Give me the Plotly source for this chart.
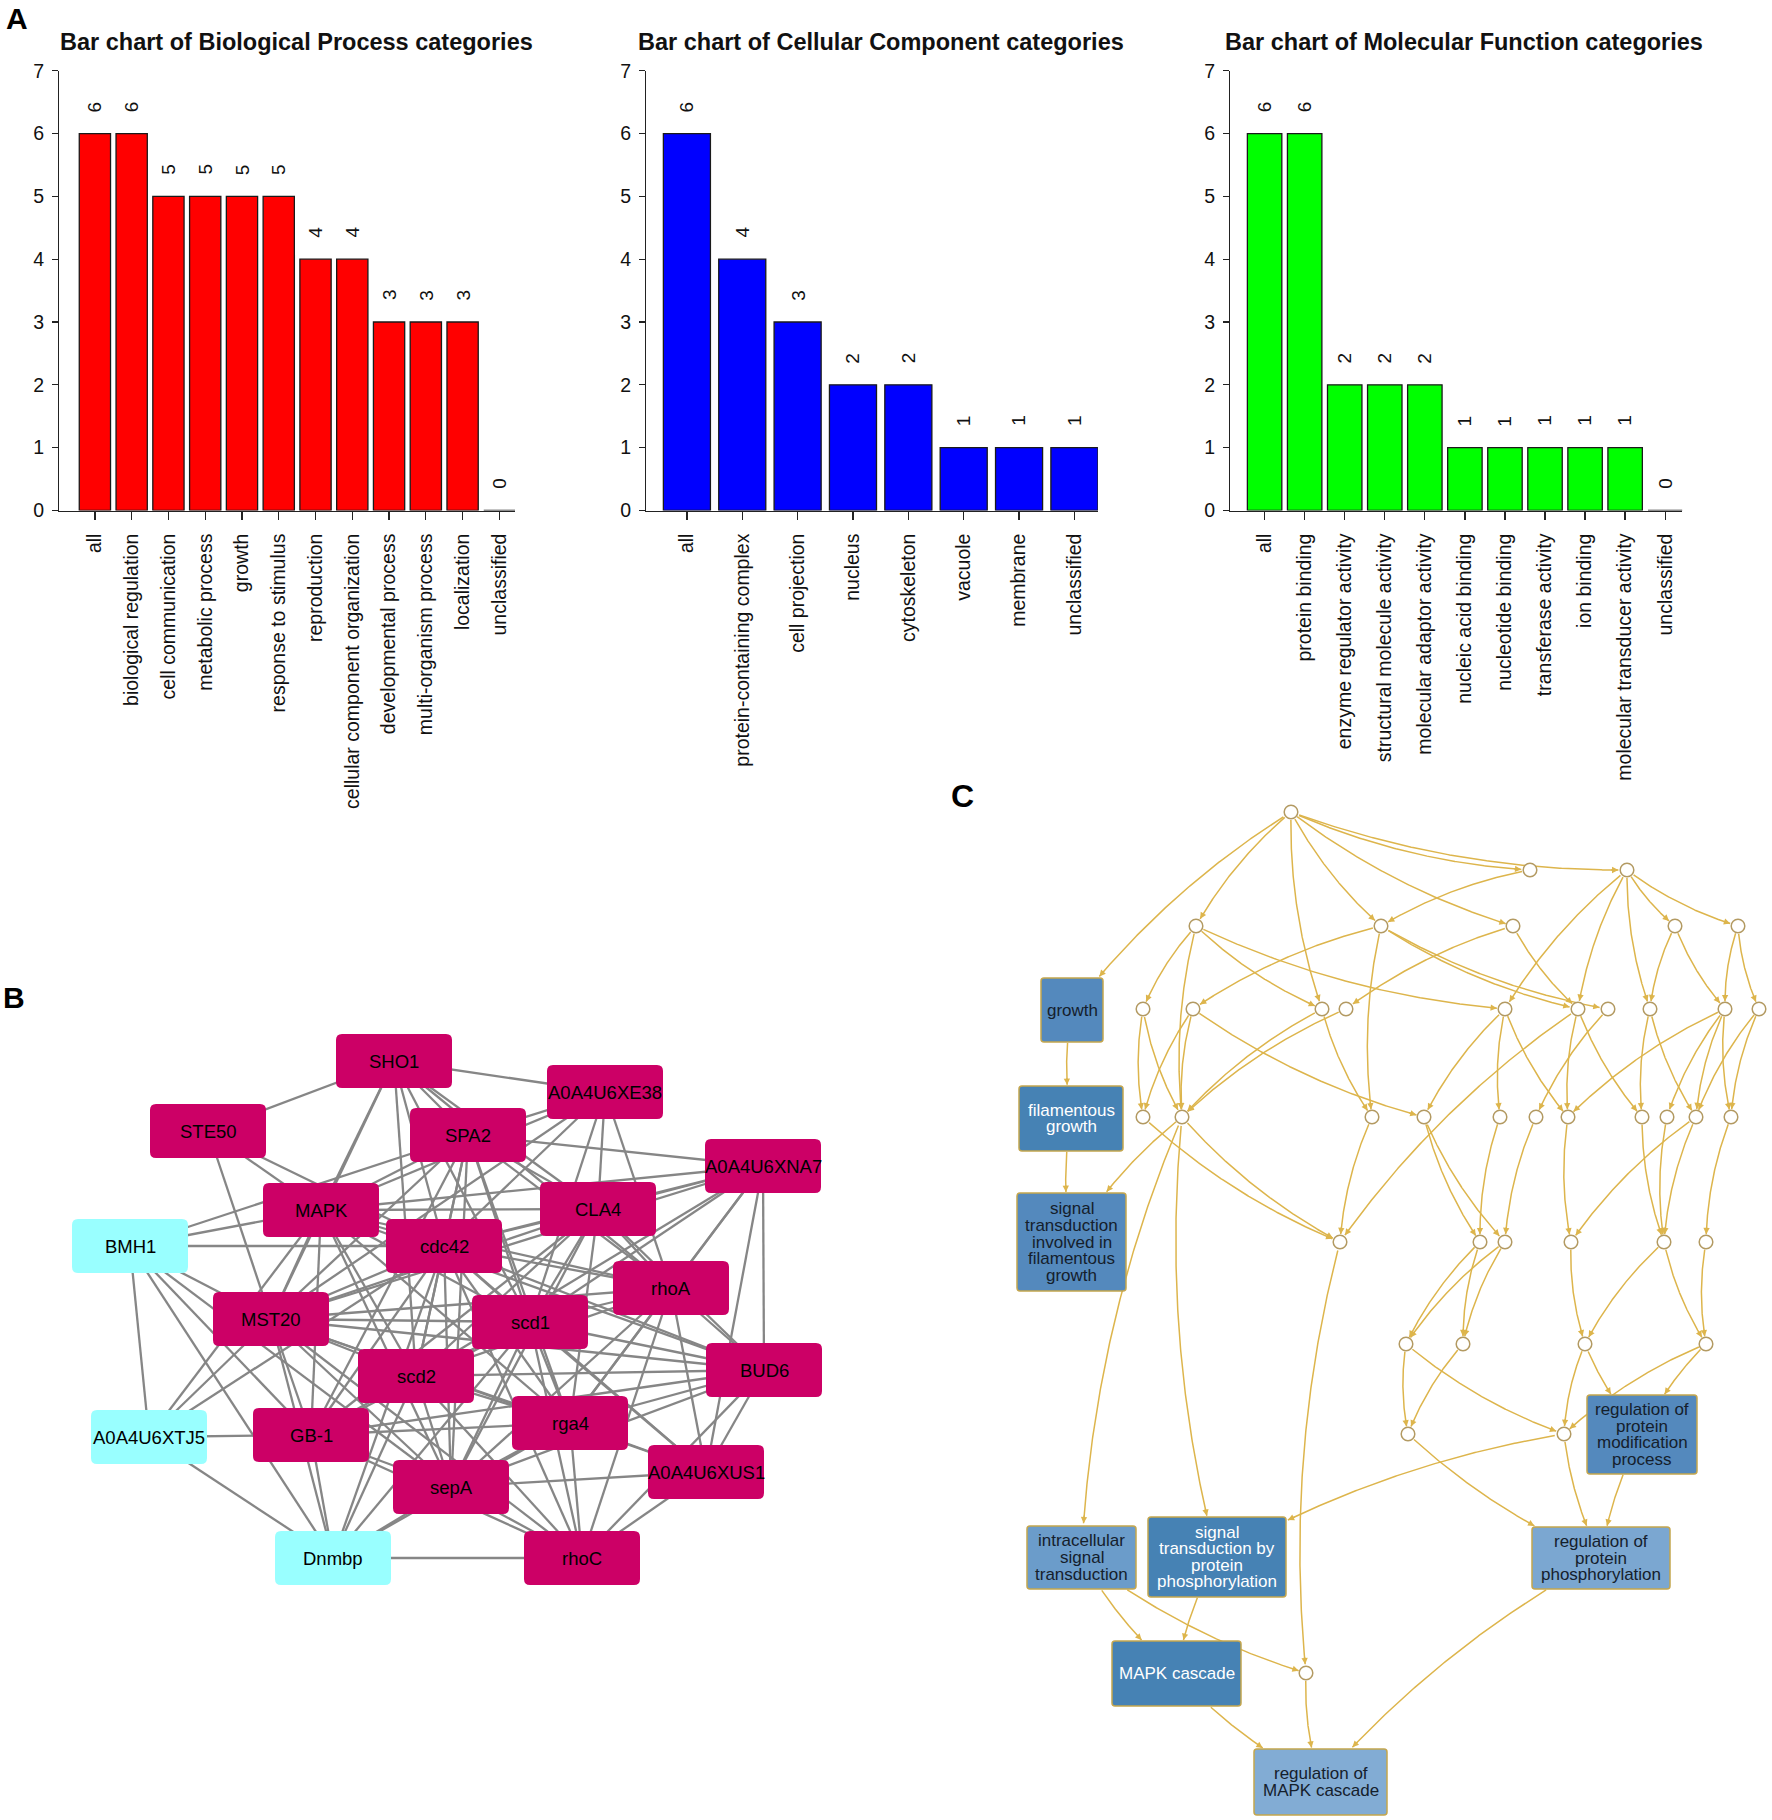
import plotly.graph_objects as go

W, H = 1772, 1820
FONT = "Liberation Sans, Arial, Helvetica, sans-serif"

# ---------------- Panel A data ----------------
bp_categories = ["all", "biological regulation", "cell communication", "metabolic process", "growth",
                 "response to stimulus", "reproduction", "cellular component organization",
                 "developmental process", "multi-organism process", "localization", "unclassified"]
bp_values = [6, 6, 5, 5, 5, 5, 4, 4, 3, 3, 3, 0]

cc_categories = ["all", "protein-containing complex", "cell projection", "nucleus", "cytoskeleton",
                 "vacuole", "membrane", "unclassified"]
cc_values = [6, 4, 3, 2, 2, 1, 1, 1]

mf_categories = ["all", "protein binding", "enzyme regulator activity", "structural molecule activity",
                 "molecular adaptor activity", "nucleic acid binding", "nucleotide binding",
                 "transferase activity", "ion binding", "molecular transducer activity", "unclassified"]
mf_values = [6, 6, 2, 2, 2, 1, 1, 1, 1, 1, 0]

y_tick_values = [0, 1, 2, 3, 4, 5, 6, 7]

# ---------------- Panel B data ----------------
b_nodes = ["SHO1", "A0A4U6XE38", "STE50", "SPA2", "A0A4U6XNA7", "MAPK", "CLA4", "BMH1", "cdc42", "rhoA",
           "MST20", "scd1", "BUD6", "scd2", "rga4", "A0A4U6XTJ5", "GB-1", "A0A4U6XUS1", "sepA", "Dnmbp", "rhoC"]
b_group = ["hub", "hub", "hub", "hub", "hub", "hub", "hub", "other", "hub", "hub",
           "hub", "hub", "hub", "hub", "hub", "other", "hub", "hub", "hub", "other", "hub"]
b_edges = [
    ("STE50", "SHO1"), ("STE50", "MAPK"), ("STE50", "MST20"), ("STE50", "cdc42"),
    ("BMH1", "SPA2"), ("BMH1", "MAPK"), ("BMH1", "cdc42"), ("BMH1", "MST20"), ("BMH1", "A0A4U6XTJ5"),
    ("BMH1", "GB-1"), ("BMH1", "Dnmbp"), ("BMH1", "sepA"),
    ("A0A4U6XTJ5", "MAPK"), ("A0A4U6XTJ5", "MST20"), ("A0A4U6XTJ5", "cdc42"), ("A0A4U6XTJ5", "GB-1"),
    ("A0A4U6XTJ5", "Dnmbp"),
    ("Dnmbp", "MST20"), ("Dnmbp", "GB-1"), ("Dnmbp", "scd2"), ("Dnmbp", "sepA"), ("Dnmbp", "cdc42"),
    ("Dnmbp", "scd1"), ("Dnmbp", "rhoC"), ("Dnmbp", "rga4"),
    ("SHO1", "A0A4U6XE38"), ("SHO1", "MAPK"), ("SHO1", "MST20"), ("SHO1", "SPA2"), ("SHO1", "cdc42"),
    ("SHO1", "scd1"), ("SHO1", "CLA4"), ("SHO1", "scd2"), ("SHO1", "rhoA"),
    ("A0A4U6XE38", "SPA2"), ("A0A4U6XE38", "cdc42"), ("A0A4U6XE38", "CLA4"), ("A0A4U6XE38", "scd1"),
    ("A0A4U6XE38", "MST20"), ("A0A4U6XE38", "rhoA"), ("A0A4U6XE38", "MAPK"),
    ("A0A4U6XNA7", "SPA2"), ("A0A4U6XNA7", "CLA4"), ("A0A4U6XNA7", "MAPK"), ("A0A4U6XNA7", "cdc42"),
    ("A0A4U6XNA7", "rhoA"), ("A0A4U6XNA7", "BUD6"), ("A0A4U6XNA7", "scd1"), ("A0A4U6XNA7", "A0A4U6XUS1"),
    ("A0A4U6XNA7", "scd2"), ("A0A4U6XNA7", "rga4"), ("A0A4U6XNA7", "MST20"),
    ("rhoC", "sepA"), ("rhoC", "rga4"), ("rhoC", "scd1"), ("rhoC", "A0A4U6XUS1"), ("rhoC", "BUD6"),
    ("rhoC", "GB-1"), ("rhoC", "MST20"), ("rhoC", "scd2"), ("rhoC", "rhoA"), ("rhoC", "cdc42"),
    ("A0A4U6XUS1", "sepA"), ("A0A4U6XUS1", "rga4"), ("A0A4U6XUS1", "BUD6"), ("A0A4U6XUS1", "scd1"),
    ("A0A4U6XUS1", "rhoA"), ("A0A4U6XUS1", "cdc42"), ("A0A4U6XUS1", "MST20"),
    ("BUD6", "rhoA"), ("BUD6", "CLA4"), ("BUD6", "scd1"), ("BUD6", "cdc42"), ("BUD6", "scd2"),
    ("BUD6", "MST20"), ("BUD6", "rga4"), ("BUD6", "sepA"), ("BUD6", "GB-1"), ("BUD6", "MAPK"),
    ("rhoA", "CLA4"), ("rhoA", "cdc42"), ("rhoA", "SPA2"), ("rhoA", "scd1"), ("rhoA", "MST20"),
    ("rhoA", "scd2"), ("rhoA", "rga4"), ("rhoA", "sepA"), ("rhoA", "MAPK"),
    ("MAPK", "cdc42"), ("MAPK", "SPA2"), ("MAPK", "CLA4"), ("MAPK", "scd1"), ("MAPK", "scd2"),
    ("MAPK", "rga4"), ("MAPK", "sepA"), ("MAPK", "MST20"), ("MAPK", "GB-1"),
    ("cdc42", "SPA2"), ("cdc42", "CLA4"), ("cdc42", "scd1"), ("cdc42", "scd2"), ("cdc42", "rga4"),
    ("cdc42", "sepA"), ("cdc42", "MST20"), ("cdc42", "GB-1"),
    ("SPA2", "CLA4"), ("SPA2", "scd1"), ("SPA2", "scd2"), ("SPA2", "rga4"), ("SPA2", "sepA"),
    ("SPA2", "MST20"), ("SPA2", "GB-1"),
    ("CLA4", "scd1"), ("CLA4", "scd2"), ("CLA4", "rga4"), ("CLA4", "sepA"), ("CLA4", "MST20"), ("CLA4", "GB-1"),
    ("scd1", "scd2"), ("scd1", "rga4"), ("scd1", "sepA"), ("scd1", "MST20"), ("scd1", "GB-1"),
    ("scd2", "rga4"), ("scd2", "sepA"), ("scd2", "MST20"), ("scd2", "GB-1"),
    ("rga4", "sepA"), ("rga4", "MST20"), ("rga4", "GB-1"),
    ("sepA", "MST20"), ("sepA", "GB-1"),
    ("MST20", "GB-1"),
]

# ---------------- Panel C data ----------------
c_terms = ["G", "FG", "STF", "RPMP", "IST", "STPP", "RPP", "MAPKC", "RMAPK"]
c_term_lines = [["growth"], ["filamentous", "growth"],
                ["signal", "transduction", "involved in", "filamentous", "growth"],
                ["regulation of", "protein", "modification", "process"],
                ["intracellular", "signal", "transduction"],
                ["signal", "transduction by", "protein", "phosphorylation"],
                ["regulation of", "protein", "phosphorylation"],
                ["MAPK cascade"],
                ["regulation of", "MAPK cascade"]]
c_term_level = ["mid", "dark", "mid", "mid", "light", "dark", "lighter", "dark", "lightest"]
c_hidden = ["n0", "n1a", "n1b", "n2a", "n2b", "n2c", "n2d", "n2e",
            "n3a", "n3b", "n3c", "n3d", "n3e", "n3f", "n3g", "n3h", "n3i", "n3j",
            "n4a", "n4b", "n4c", "n4d", "n4e", "n4f", "n4g", "n4h", "n4i", "n4j", "n4k",
            "n5a", "n5b", "n5c", "n5d", "n5e", "n5f", "n6a", "n6b", "n6c", "n6d", "n7a", "n7b", "n9"]
c_edges = [
    ("n0", "G"), ("n0", "n2a"), ("n0", "n3c"), ("n0", "n2b"), ("n0", "n2c"), ("n0", "n1a"), ("n0", "n1b"),
    ("n1a", "n2b"),
    ("n1b", "n3e"), ("n1b", "n3f"), ("n1b", "n2d"), ("n1b", "n2e"), ("n1b", "n3h"),
    ("n2a", "n3a"), ("n2a", "n4b"), ("n2a", "n3c"), ("n2a", "n3e"),
    ("n2b", "n3b"), ("n2b", "n4c"), ("n2b", "n3f"), ("n2b", "n3g"),
    ("n2c", "n3d"), ("n2c", "n3f"),
    ("n2d", "n3h"), ("n2d", "n3i"),
    ("n2e", "n3i"), ("n2e", "n3j"),
    ("n3a", "n4a"), ("n3a", "n4b"),
    ("n3b", "n4a"), ("n3b", "n4d"), ("n3b", "n4b"),
    ("n3c", "n4b"), ("n3c", "n4c"), ("n3d", "n4b"),
    ("G", "FG"), ("FG", "STF"), ("n4b", "STF"),
    ("n4a", "n5a"), ("n4b", "n5a"), ("n4c", "n5a"),
    ("n4b", "IST"), ("n4b", "STPP"),
    ("n4d", "n5b"), ("n4d", "n5c"),
    ("n3e", "n4d"), ("n3e", "n4e"), ("n3e", "n4g"),
    ("n3f", "n4g"), ("n3f", "n4h"), ("n3f", "n5a"),
    ("n3g", "n4f"),
    ("n3h", "n4h"), ("n3h", "n4j"),
    ("n3i", "n4i"), ("n3i", "n4j"), ("n3i", "n4g"), ("n3i", "n4k"),
    ("n3j", "n4k"), ("n3j", "n4j"),
    ("n4e", "n5b"), ("n4f", "n5c"), ("n4g", "n5d"), ("n4h", "n5e"), ("n4i", "n5e"), ("n4j", "n5e"),
    ("n4j", "n5d"), ("n4k", "n5f"),
    ("n5a", "n9"),
    ("n5b", "n6a"), ("n5b", "n6b"), ("n5c", "n6b"), ("n5c", "n6a"),
    ("n5d", "n6c"), ("n5e", "n6c"), ("n5f", "n6d"), ("n5e", "n6d"),
    ("n6a", "n7a"), ("n6a", "n7b"), ("n6b", "n7a"),
    ("n6c", "RPMP"), ("n6c", "n7b"), ("n6d", "RPMP"), ("n6d", "n7b"),
    ("n7a", "RPP"), ("n7b", "RPP"), ("n7b", "STPP"), ("RPMP", "RPP"),
    ("IST", "MAPKC"), ("IST", "n9"), ("STPP", "MAPKC"), ("MAPKC", "RMAPK"), ("n9", "RMAPK"), ("RPP", "RMAPK"),
]

# ================= layout geometry (pixel positions) =================
bar_geom = [
    dict(left=59.3, c0=94.9, pitch=36.77, bw=0.85, tx=296.6),
    dict(left=646.4, c0=686.9, pitch=55.36, bw=0.85, tx=880.8),
    dict(left=1230.2, c0=1264.6, pitch=40.06, bw=0.86, tx=1464.3),
]
Y0_PX, Y7_PX = 510.5, 70.7

b_x = [394, 605, 208, 468, 763, 321, 598, 130, 444, 671, 271, 530, 764, 416, 570, 149, 311, 706, 451, 333, 582]
b_y = [1061, 1092, 1131, 1135, 1166, 1210, 1209, 1246, 1246, 1288, 1319, 1322, 1370, 1376, 1423, 1437, 1435,
       1472, 1487, 1558, 1558]
B_W, B_H = 116, 54

c_hidden_x = [1291, 1530, 1627, 1196, 1381, 1513, 1675, 1738,
              1143, 1193, 1322, 1346, 1505, 1578, 1608, 1650, 1725, 1759,
              1143, 1182, 1372, 1424, 1500, 1536, 1568, 1642, 1667, 1696, 1731,
              1340, 1480, 1505, 1571, 1664, 1706, 1406, 1463, 1585, 1706, 1408, 1564, 1306]
c_hidden_y = [812, 870, 870, 926, 926, 926, 926, 926,
              1009, 1009, 1009, 1009, 1009, 1009, 1009, 1009, 1009, 1009,
              1117, 1117, 1117, 1117, 1117, 1117, 1117, 1117, 1117, 1117, 1117,
              1242, 1242, 1242, 1242, 1242, 1242, 1344, 1344, 1344, 1344, 1434, 1434, 1673]
C_R = 6.8
c_box_x0 = [1041, 1019, 1017, 1587, 1027, 1148, 1532, 1112, 1254]
c_box_y0 = [978, 1086, 1193, 1395, 1526, 1517, 1527, 1641, 1749]
c_box_x1 = [1103, 1123, 1126, 1697, 1136, 1286, 1670, 1241, 1387]
c_box_y1 = [1042, 1151, 1291, 1474, 1589, 1597, 1589, 1706, 1815]

# styles
BAR_COLORS = ["#FF0000", "#0000FF", "#00FF00"]
B_COLORS = {"hub": "#CC0066", "other": "#99FFFF"}
C_FILL = {"dark": "#4682B4", "mid": "#5489BD", "light": "#6B9CCA", "lighter": "#7BA7D1", "lightest": "#82ACD4"}
C_TEXT = {"dark": "#FFFFFF", "mid": "#15202C", "light": "#15202C", "lighter": "#15202C", "lightest": "#15202C"}
C_EDGE = "#DDB54C"
AX = "#222222"

fig = go.Figure()
annotations = []
shapes = []
axes = {}

# ================= Panel A =================
bar_sets = [
    ("Bar chart of Biological Process categories", bp_categories, bp_values),
    ("Bar chart of Cellular Component categories", cc_categories, cc_values),
    ("Bar chart of Molecular Function categories", mf_categories, mf_values),
]
for k, ((title, cats, vals), g, col) in enumerate(zip(bar_sets, bar_geom, BAR_COLORS), start=1):
    xn = "x" if k == 1 else f"x{k}"
    yn = "y" if k == 1 else f"y{k}"
    n = len(cats)
    xs = list(range(n))
    lo = -(g["c0"] - g["left"]) / g["pitch"]
    hi = (n - 1) + g["bw"] / 2
    right_px = g["c0"] + hi * g["pitch"]
    fig.add_trace(go.Bar(x=xs, y=vals, width=g["bw"], xaxis=xn, yaxis=yn, showlegend=False,
                         hoverinfo="skip",
                         marker=dict(color=col, line=dict(color="#1a1a1a", width=1.3))))
    axes["xaxis" if k == 1 else f"xaxis{k}"] = dict(
        domain=[g["left"] / W, right_px / W], range=[lo, hi], anchor=yn, automargin=False,
        tickmode="array", tickvals=xs, ticktext=cats, tickangle=-90,
        ticks="outside", ticklen=8, tickwidth=1.3, tickcolor=AX,
        showline=True, linecolor=AX, linewidth=1.3, showgrid=False, zeroline=False,
        ticklabelstandoff=6, tickfont=dict(family=FONT, size=19.5, color="#111"))
    axes["yaxis" if k == 1 else f"yaxis{k}"] = dict(
        domain=[1 - Y0_PX / H, 1 - Y7_PX / H], range=[0, 7], anchor=xn, automargin=False,
        tickmode="array", tickvals=y_tick_values, ticks="outside", ticklen=6, tickwidth=1.3,
        tickcolor=AX, showline=True, linecolor=AX, linewidth=1.3, showgrid=False, zeroline=False,
        ticklabelstandoff=4, tickfont=dict(family=FONT, size=19.5, color="#111"))
    for i, v in enumerate(vals):
        annotations.append(dict(x=i, y=v, xref=xn, yref=yn, text=str(v), showarrow=False,
                                textangle=-90, yshift=27,
                                font=dict(family=FONT, size=19, color="#111")))
    annotations.append(dict(x=g["tx"] / W, y=1 - 42 / H, xref="paper", yref="paper", text=title,
                            showarrow=False, xanchor="center", yanchor="middle",
                            font=dict(family=FONT, size=23.5, color="#111", weight="bold")))

# panel letters
for letter, px, py, sz in [("A", 16.5, 18.5, 30), ("B", 13.5, 997.5, 30), ("C", 962, 795.5, 32)]:
    annotations.append(dict(x=px / W, y=1 - py / H, xref="paper", yref="paper", text=letter,
                            showarrow=False, xanchor="center", yanchor="middle",
                            font=dict(family=FONT, size=sz, color="#000", weight="bold")))

# overlay axes for networks (pixel coordinates)
axes["xaxis4"] = dict(domain=[0, 1], range=[0, W], visible=False, anchor="y4", fixedrange=True,
                      automargin=False)
axes["yaxis4"] = dict(domain=[0, 1], range=[H, 0], visible=False, anchor="x4", fixedrange=True,
                      automargin=False)


def rounded_path(x0, y0, x1, y1, r):
    return (f"M {x0 + r},{y0} L {x1 - r},{y0} Q {x1},{y0} {x1},{y0 + r} L {x1},{y1 - r} "
            f"Q {x1},{y1} {x1 - r},{y1} L {x0 + r},{y1} Q {x0},{y1} {x0},{y1 - r} "
            f"L {x0},{y0 + r} Q {x0},{y0} {x0 + r},{y0} Z")


# ================= Panel B =================
bpos = {name: (x, y) for name, x, y in zip(b_nodes, b_x, b_y)}
ex, ey = [], []
for a, b in b_edges:
    ex += [bpos[a][0], bpos[b][0], None]
    ey += [bpos[a][1], bpos[b][1], None]
fig.add_trace(go.Scatter(x=ex, y=ey, mode="lines", xaxis="x4", yaxis="y4", showlegend=False,
                         hoverinfo="skip", line=dict(color="#868686", width=2.3)))
for name, grp in zip(b_nodes, b_group):
    x, y = bpos[name]
    shapes.append(dict(type="path", xref="x4", yref="y4", layer="above",
                       path=rounded_path(x - B_W / 2, y - B_H / 2, x + B_W / 2, y + B_H / 2, 6),
                       fillcolor=B_COLORS[grp], line=dict(width=0)))
    annotations.append(dict(x=x, y=y, xref="x4", yref="y4", text=name, showarrow=False,
                            xanchor="center", yanchor="middle",
                            font=dict(family=FONT, size=18.5, color="#000")))

# ================= Panel C =================
cgeo = {}
for name, x, y in zip(c_hidden, c_hidden_x, c_hidden_y):
    cgeo[name] = ("c", x, y)
for name, x0, y0, x1, y1 in zip(c_terms, c_box_x0, c_box_y0, c_box_x1, c_box_y1):
    cgeo[name] = ("b", x0, y0, x1, y1)


def centre(name):
    g = cgeo[name]
    if g[0] == "c":
        return g[1], g[2]
    return (g[1] + g[3]) / 2, (g[2] + g[4]) / 2


def inside(name, p):
    g = cgeo[name]
    if g[0] == "c":
        return (p[0] - g[1]) ** 2 + (p[1] - g[2]) ** 2 <= (C_R + 0.8) ** 2
    return g[1] - 0.8 <= p[0] <= g[3] + 0.8 and g[2] - 0.8 <= p[1] <= g[4] + 0.8


cx_all, cy_all = [], []
arrows = []
K = 0.09
for a, b in c_edges:
    p0, p1 = centre(a), centre(b)
    dx, dy = p1[0] - p0[0], p1[1] - p0[1]
    qx = (p0[0] + p1[0]) / 2 - K * dy
    qy = (p0[1] + p1[1]) / 2 + K * dx
    N = 200
    pts = []
    for i in range(N + 1):
        t = i / N
        pts.append(((1 - t) ** 2 * p0[0] + 2 * (1 - t) * t * qx + t ** 2 * p1[0],
                    (1 - t) ** 2 * p0[1] + 2 * (1 - t) * t * qy + t ** 2 * p1[1]))
    i0 = 0
    while i0 < N and inside(a, pts[i0]):
        i0 += 1
    j1 = i0
    while j1 < N and not inside(b, pts[j1]):
        j1 += 1
    seg = pts[i0:j1]
    if len(seg) < 2:
        continue
    cx_all += [p[0] for p in seg] + [None]
    cy_all += [p[1] for p in seg] + [None]
    end = seg[-1]
    dist = 0.0
    back = seg[0]
    for j in range(len(seg) - 1, 0, -1):
        dist += ((seg[j][0] - seg[j - 1][0]) ** 2 + (seg[j][1] - seg[j - 1][1]) ** 2) ** 0.5
        if dist >= 8:
            back = seg[j - 1]
            break
    arrows.append((end, back))

fig.add_trace(go.Scatter(x=cx_all, y=cy_all, mode="lines", xaxis="x4", yaxis="y4", showlegend=False,
                         hoverinfo="skip", line=dict(color=C_EDGE, width=1.5)))

for name in c_hidden:
    _, x, y = cgeo[name]
    shapes.append(dict(type="circle", xref="x4", yref="y4", layer="above",
                       x0=x - C_R, x1=x + C_R, y0=y - C_R, y1=y + C_R,
                       fillcolor="#FFFFFF", line=dict(color="#B39A62", width=1.5)))

LH = 16.6
for name, lines, lvl in zip(c_terms, c_term_lines, c_term_level):
    _, x0, y0, x1, y1 = cgeo[name]
    shapes.append(dict(type="path", xref="x4", yref="y4", layer="above",
                       path=rounded_path(x0, y0, x1, y1, 3),
                       fillcolor=C_FILL[lvl], line=dict(color="#C4A64E", width=1.5)))
    mx, my = (x0 + x1) / 2, (y0 + y1) / 2
    nl = len(lines)
    for k, ln in enumerate(lines):
        annotations.append(dict(x=mx, y=my + (k - (nl - 1) / 2) * LH, xref="x4", yref="y4", text=ln,
                                showarrow=False, xanchor="center", yanchor="middle",
                                font=dict(family=FONT, size=17, color=C_TEXT[lvl])))

for end, back in arrows:
    annotations.append(dict(x=end[0], y=end[1], ax=back[0], ay=back[1], xref="x4", yref="y4",
                            axref="x4", ayref="y4", text="", showarrow=True, arrowhead=2,
                            arrowsize=0.9, arrowwidth=1.4, arrowcolor=C_EDGE, standoff=0))

fig.update_layout(width=W, height=H, margin=dict(l=0, r=0, t=0, b=0, pad=0, autoexpand=False),
                  paper_bgcolor="#FFFFFF", plot_bgcolor="rgba(0,0,0,0)", showlegend=False,
                  font=dict(family=FONT), annotations=annotations, shapes=shapes, **axes)

fig.write_html("out.html", config={"displayModeBar": False, "staticPlot": True},
               post_script="document.body.style.margin='0';document.body.style.overflow='hidden';")
